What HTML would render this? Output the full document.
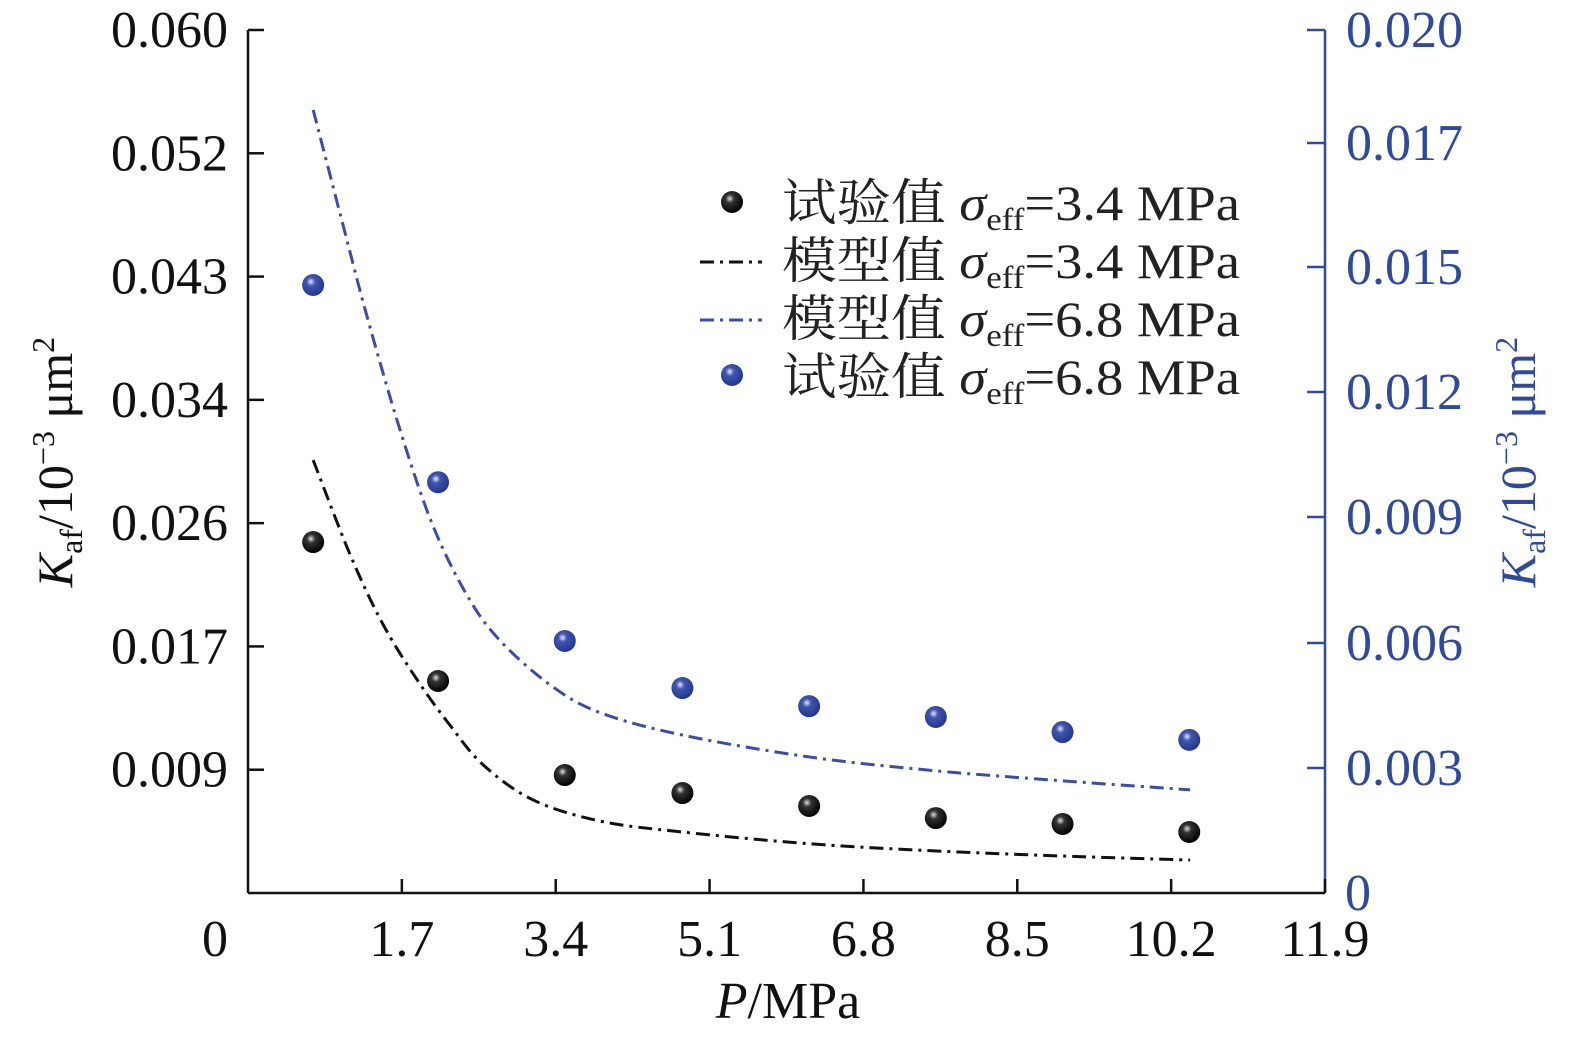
<!DOCTYPE html>
<html><head><meta charset="utf-8"><style>
html,body{margin:0;padding:0;background:#fff;overflow:hidden;width:1575px;height:1043px;}
svg{display:block;font-family:"Liberation Serif","Noto Serif CJK SC",serif;}
</style></head><body>
<svg id="chart" width="1575" height="1043" viewBox="0 0 1575 1043">
<defs>
<radialGradient id="gk" cx="0.4" cy="0.35" r="0.65"><stop offset="0" stop-color="#ddd"/><stop offset="0.3" stop-color="#333"/><stop offset="1" stop-color="#000"/></radialGradient>
<radialGradient id="gb" cx="0.4" cy="0.35" r="0.65"><stop offset="0" stop-color="#e8e8ff"/><stop offset="0.3" stop-color="#3f55b0"/><stop offset="1" stop-color="#23378a"/></radialGradient>
</defs>
<g id="axes"></g>
<g id="marks"></g>
<g id="legend">
 <circle cx="732" cy="202" r="11" fill="url(#gk)"/>
 <line x1="700" y1="262" x2="762" y2="262" stroke="#111" stroke-width="3" stroke-dasharray="14,6,3,6"/>
 <line x1="700" y1="320" x2="762" y2="320" stroke="#3a4fa3" stroke-width="3" stroke-dasharray="14,6,3,6"/>
 <circle cx="732" cy="375" r="11" fill="url(#gb)"/>
 <text x="782" y="220" font-size="50" fill="#222" textLength="458" lengthAdjust="spacingAndGlyphs">试验值 <tspan font-style="italic">σ</tspan><tspan font-size="32" dy="10">eff</tspan><tspan dy="-10">=3.4 MPa</tspan></text>
 <text x="782" y="278" font-size="50" fill="#222" textLength="458" lengthAdjust="spacingAndGlyphs">模型值 <tspan font-style="italic">σ</tspan><tspan font-size="32" dy="10">eff</tspan><tspan dy="-10">=3.4 MPa</tspan></text>
 <text x="782" y="336" font-size="50" fill="#222" textLength="458" lengthAdjust="spacingAndGlyphs">模型值 <tspan font-style="italic">σ</tspan><tspan font-size="32" dy="10">eff</tspan><tspan dy="-10">=6.8 MPa</tspan></text>
 <text x="782" y="394" font-size="50" fill="#222" textLength="458" lengthAdjust="spacingAndGlyphs">试验值 <tspan font-style="italic">σ</tspan><tspan font-size="32" dy="10">eff</tspan><tspan dy="-10">=6.8 MPa</tspan></text>
</g>
<text x="788" y="1018" font-size="52" text-anchor="middle" fill="#111"><tspan font-style="italic">P</tspan>/MPa</text>
<text transform="translate(72,462) rotate(-90)" font-size="50" text-anchor="middle" fill="#111"><tspan font-style="italic">K</tspan><tspan font-size="32" dy="10">af</tspan><tspan dy="-10">/10</tspan><tspan font-size="32" dy="-18">−3</tspan><tspan dy="18"> μm</tspan><tspan font-size="32" dy="-18">2</tspan></text>
<text transform="translate(1535,462) rotate(-90)" font-size="50" text-anchor="middle" fill="#2f4a9a"><tspan font-style="italic">K</tspan><tspan font-size="32" dy="10">af</tspan><tspan dy="-10">/10</tspan><tspan font-size="32" dy="-18">−3</tspan><tspan dy="18"> μm</tspan><tspan font-size="32" dy="-18">2</tspan></text>
</svg>
<script>
const pressures=[0.72,2.1,3.5,4.8,6.2,7.6,9.0,10.4];
const exp34=[0.0244,0.01474,0.0082,0.00695,0.00605,0.00521,0.0048,0.00424];
const exp68=[0.01409,0.00952,0.00584,0.00475,0.00433,0.00408,0.00373,0.00355];
const model34P=[0.72,1.13,1.49,1.87,2.23,2.60,3.15,3.89,4.8,6.21,7.61,9.0,10.41];
const model34=[0.0301,0.0235,0.0187,0.01481,0.01168,0.0089,0.00647,0.00500,0.00424,0.00342,0.00292,0.00257,0.00229];
const model68P=[0.72,1.05,1.31,1.68,2.04,2.42,2.78,3.34,3.89,4.8,6.21,7.61,9.0,10.41];
const model68=[0.01815,0.01548,0.0134,0.01073,0.00853,0.0069,0.00586,0.00482,0.00418,0.00366,0.00315,0.00283,0.0026,0.00239];
const xTicks=["0","1.7","3.4","5.1","6.8","8.5","10.2","11.9"];
const leftTicks=["0","0.009","0.017","0.026","0.034","0.043","0.052","0.060"];
const rightTicks=["0","0.003","0.006","0.009","0.012","0.015","0.017","0.020"];
const X0=248,X1=1325,Y0=893,Y1=30;
const xs=v=>X0+v/11.9*(X1-X0);
const yl=v=>Y0-v/0.06*(Y0-Y1);
const yr=v=>Y0-v/0.02*(Y0-Y1);
const NS="http://www.w3.org/2000/svg";
function mk(t,a,p){const e=document.createElementNS(NS,t);for(const k in a)e.setAttribute(k,a[k]);p.appendChild(e);return e;}
const axes=document.getElementById('axes'),marks=document.getElementById('marks');
let e;
e=mk('line',{x1:X0,y1:Y1,x2:X0,y2:Y0,stroke:'#111','stroke-width':2.5},axes);


e=mk('line',{x1:X0,y1:Y0,x2:X1,y2:Y0,stroke:'#111','stroke-width':2.5},axes);


e=mk('line',{x1:X1,y1:Y1,x2:X1,y2:Y0,stroke:'#2f4a9a','stroke-width':2.5},axes);


xTicks.forEach((t,i)=>{const x=X0+i*(X1-X0)/7;
 if(i>0){e=mk('line',{x1:x,y1:Y0,x2:x,y2:Y0-14,stroke:'#111','stroke-width':2.5},axes);
 
 }
 e=mk('text',{x:i==0?215:x,y:956,'font-size':52,'text-anchor':'middle',fill:'#111'},axes);e.textContent=t;
 
 
});
leftTicks.forEach((t,i)=>{const y=Y0-i*(Y0-Y1)/7;
 if(i>0){e=mk('line',{x1:X0,y1:y,x2:X0+16,y2:y,stroke:'#111','stroke-width':2.5},axes);
 
 }
 if(i>0){e=mk('text',{x:228,y:y+17,'font-size':52,'text-anchor':'end',fill:'#111'},axes);e.textContent=t;
 
 }
});
const rPos=[893,768,643,517,392,267,143,30];
rightTicks.forEach((t,i)=>{const y=rPos[i];
 if(i>0){e=mk('line',{x1:X1,y1:y,x2:X1-18,y2:y,stroke:'#2f4a9a','stroke-width':2.5},axes);
 
 }
 e=mk('text',{x:i==0?1345:1346,y:y+17,'font-size':52,fill:'#2f4a9a'},axes);e.textContent=t;
 
 
});
function curve(px,vals,yf){const p=px.map((v,i)=>[xs(v),yf(vals[i])]);
 let d='M'+p[0][0]+','+p[0][1];
 for(let i=0;i<p.length-1;i++){const a=p[Math.max(0,i-1)],b=p[i],c=p[i+1],n=p[Math.min(p.length-1,i+2)];
  d+=' C'+(b[0]+(c[0]-a[0])/6)+','+(b[1]+(c[1]-a[1])/6)+' '+(c[0]-(n[0]-b[0])/6)+','+(c[1]-(n[1]-b[1])/6)+' '+c[0]+','+c[1];}
 return d;}
e=mk('path',{d:curve(model34P,model34,yl),fill:'none',stroke:'#111','stroke-width':3,'stroke-dasharray':'14,6,3,6'},marks);


e=mk('path',{d:curve(model68P,model68,yr),fill:'none',stroke:'#3a4fa3','stroke-width':3,'stroke-dasharray':'14,6,3,6'},marks);


pressures.forEach((p,i)=>{
 e=mk('circle',{cx:xs(p),cy:yl(exp34[i]),r:11,fill:'url(#gk)'},marks);
 
 
 e=mk('circle',{cx:xs(p),cy:yr(exp68[i]),r:11,fill:'url(#gb)'},marks);
 
 
});
</script>
</body></html>
